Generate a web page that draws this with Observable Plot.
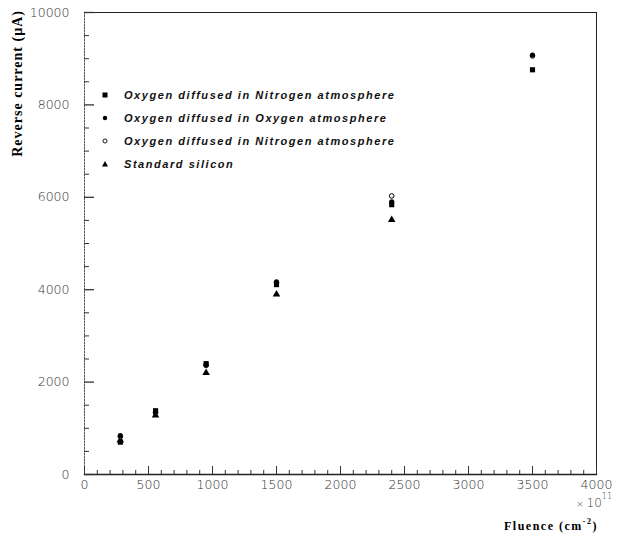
<!DOCTYPE html>
<html><head><meta charset="utf-8">
<script src="https://cdn.jsdelivr.net/npm/d3@7"></script>
<script src="https://cdn.jsdelivr.net/npm/@observablehq/plot@0.6"></script>
<style>
body{margin:0;background:#fff}
#wrap{position:relative;width:620px;height:536px}
#legend{position:absolute;left:98px;top:83px;font-family:"Liberation Sans",sans-serif;font-style:italic;font-weight:bold;font-size:11px;letter-spacing:1.55px;color:#111;white-space:nowrap}
#legend div{height:23px;display:flex;align-items:center}
#legend svg{width:14px;height:10px;margin-right:12px}
</style></head><body><div id="wrap"></div>
<script>
const fluence = [280, 555, 950, 1500, 2400, 3500];
const seriesNames = [
  "Oxygen diffused in Nitrogen atmosphere",
  "Oxygen diffused in Oxygen atmosphere",
  "Oxygen diffused in Nitrogen atmosphere",
  "Standard silicon"
];
const squareN = [700, 1380, 2400, 4110, 5840, 8760];
const dotO = [840, 1350, 2380, 4170, 5900, 9080];
const openN = [820, 1340, 2360, 4150, 6030, 9060];
const triS = [740, 1280, 2200, 3900, 5510, null];
const xTicks = [0, 500, 1000, 1500, 2000, 2500, 3000, 3500, 4000];
const yTicks = [0, 2000, 4000, 6000, 8000, 10000];

const W = 620, H = 536, mL = 84, mR = 24, mT = 12, mB = 62;
const pW = W - mL - mR, pH = H - mT - mB;
const xMinor = d3.range(100, 4000, 100).filter(v => v % 500 !== 0);
const yMinor = d3.range(500, 10000, 500).filter(v => v % 2000 !== 0);

const rows = (vals) => fluence.map((f, i) => ({x: f, y: vals[i]})).filter(d => d.y != null);

const chart = Plot.plot({
  width: W, height: H,
  marginLeft: mL, marginRight: mR, marginTop: mT, marginBottom: mB,
  x: {domain: [0, 4000]},
  y: {domain: [0, 10000]},
  style: {fontFamily: "DejaVu Sans", fontSize: "12.5px", color: "#333", background: "#fff"},
  marks: [
    Plot.frame({anchor: "top", stroke: "#222"}),
    Plot.frame({anchor: "right", stroke: "#222"}),
    Plot.frame({anchor: "bottom", stroke: "#222", strokeWidth: 1.3}),
    Plot.frame({anchor: "left", stroke: "#555", strokeDasharray: "1.5,1.5"}),
    Plot.axisX({ticks: xTicks, tickSize: 0, tickPadding: 6, tickFormat: d => String(d), fontWeight: 300, label: null}),
    Plot.axisY({ticks: yTicks, tickSize: 0, tickPadding: 15, tickFormat: d => String(d), fontWeight: 300, label: null}),
    Plot.tickX(xMinor, {x: d => d, insetTop: pH - 4, stroke: "#333"}),
    Plot.tickX(xTicks, {x: d => d, insetTop: pH - 8, stroke: "#333"}),
    Plot.tickY(yMinor, {y: d => d, insetRight: pW - 5, stroke: "#333"}),
    Plot.tickY(yTicks, {y: d => d, insetRight: pW - 10, stroke: "#333", strokeWidth: 1.3}),
    Plot.dot(rows(triS), {x: "x", y: "y", symbol: "triangle", r: 2.8, fill: "#000"}),
    Plot.dot(rows(openN), {x: "x", y: "y", symbol: "circle", r: 2.3, fill: "#fff", stroke: "#000", strokeWidth: 1}),
    Plot.dot(rows(squareN), {x: "x", y: "y", symbol: "square", r: 2.9, fill: "#000"}),
    Plot.dot(rows(dotO), {x: "x", y: "y", symbol: "circle", r: 2.6, fill: "#000"})
  ]
});

const svg = d3.select(chart);
svg.append("text")
  .attr("transform", `translate(17,${mT - 2}) rotate(-90)`)
  .attr("text-anchor", "end")
  .attr("dy", "0.35em")
  .style("font-family", "Liberation Serif")
  .style("font-weight", "bold")
  .style("font-size", "14px")
  .style("letter-spacing", "1px")
  .attr("fill", "#000")
  .text("Reverse current (µA)");
const xl = svg.append("text")
  .attr("x", W - 22).attr("y", H - 6)
  .attr("text-anchor", "end")
  .style("font-family", "Liberation Serif")
  .style("font-weight", "bold")
  .style("font-size", "12px")
  .style("letter-spacing", "1.5px")
  .attr("fill", "#000");
xl.append("tspan").text("Fluence (cm");
xl.append("tspan").attr("dy", "-6").style("font-size", "8px").text("-2");
xl.append("tspan").attr("dy", "6").text(")");
const mult = svg.append("text")
  .attr("x", W - 8).attr("y", H - 29)
  .attr("text-anchor", "end")
  .style("font-family", "DejaVu Sans")
  .style("font-weight", "300")
  .style("font-size", "12px")
  .attr("fill", "#333");
mult.append("tspan").style("font-size", "9px").text("× ");
mult.append("tspan").text("10");
mult.append("tspan").attr("dy", "-8").style("font-size", "8px").text("11");

const wrap = document.getElementById("wrap");
wrap.appendChild(chart);

const symbols = [
  '<rect x="4.5" y="2.5" width="5" height="5" fill="#000"/>',
  '<circle cx="7" cy="5" r="2.2" fill="#000"/>',
  '<circle cx="7" cy="5" r="2" fill="#fff" stroke="#000" stroke-width="0.9"/>',
  '<path d="M7 2 L10 7.5 L4 7.5 Z" fill="#000"/>'
];
const legend = document.createElement("div");
legend.id = "legend";
seriesNames.forEach((n, i) => {
  const row = document.createElement("div");
  row.innerHTML = `<svg viewBox="0 0 14 10">${symbols[i]}</svg><span>${n}</span>`;
  legend.appendChild(row);
});
wrap.appendChild(legend);
</script></body></html>
